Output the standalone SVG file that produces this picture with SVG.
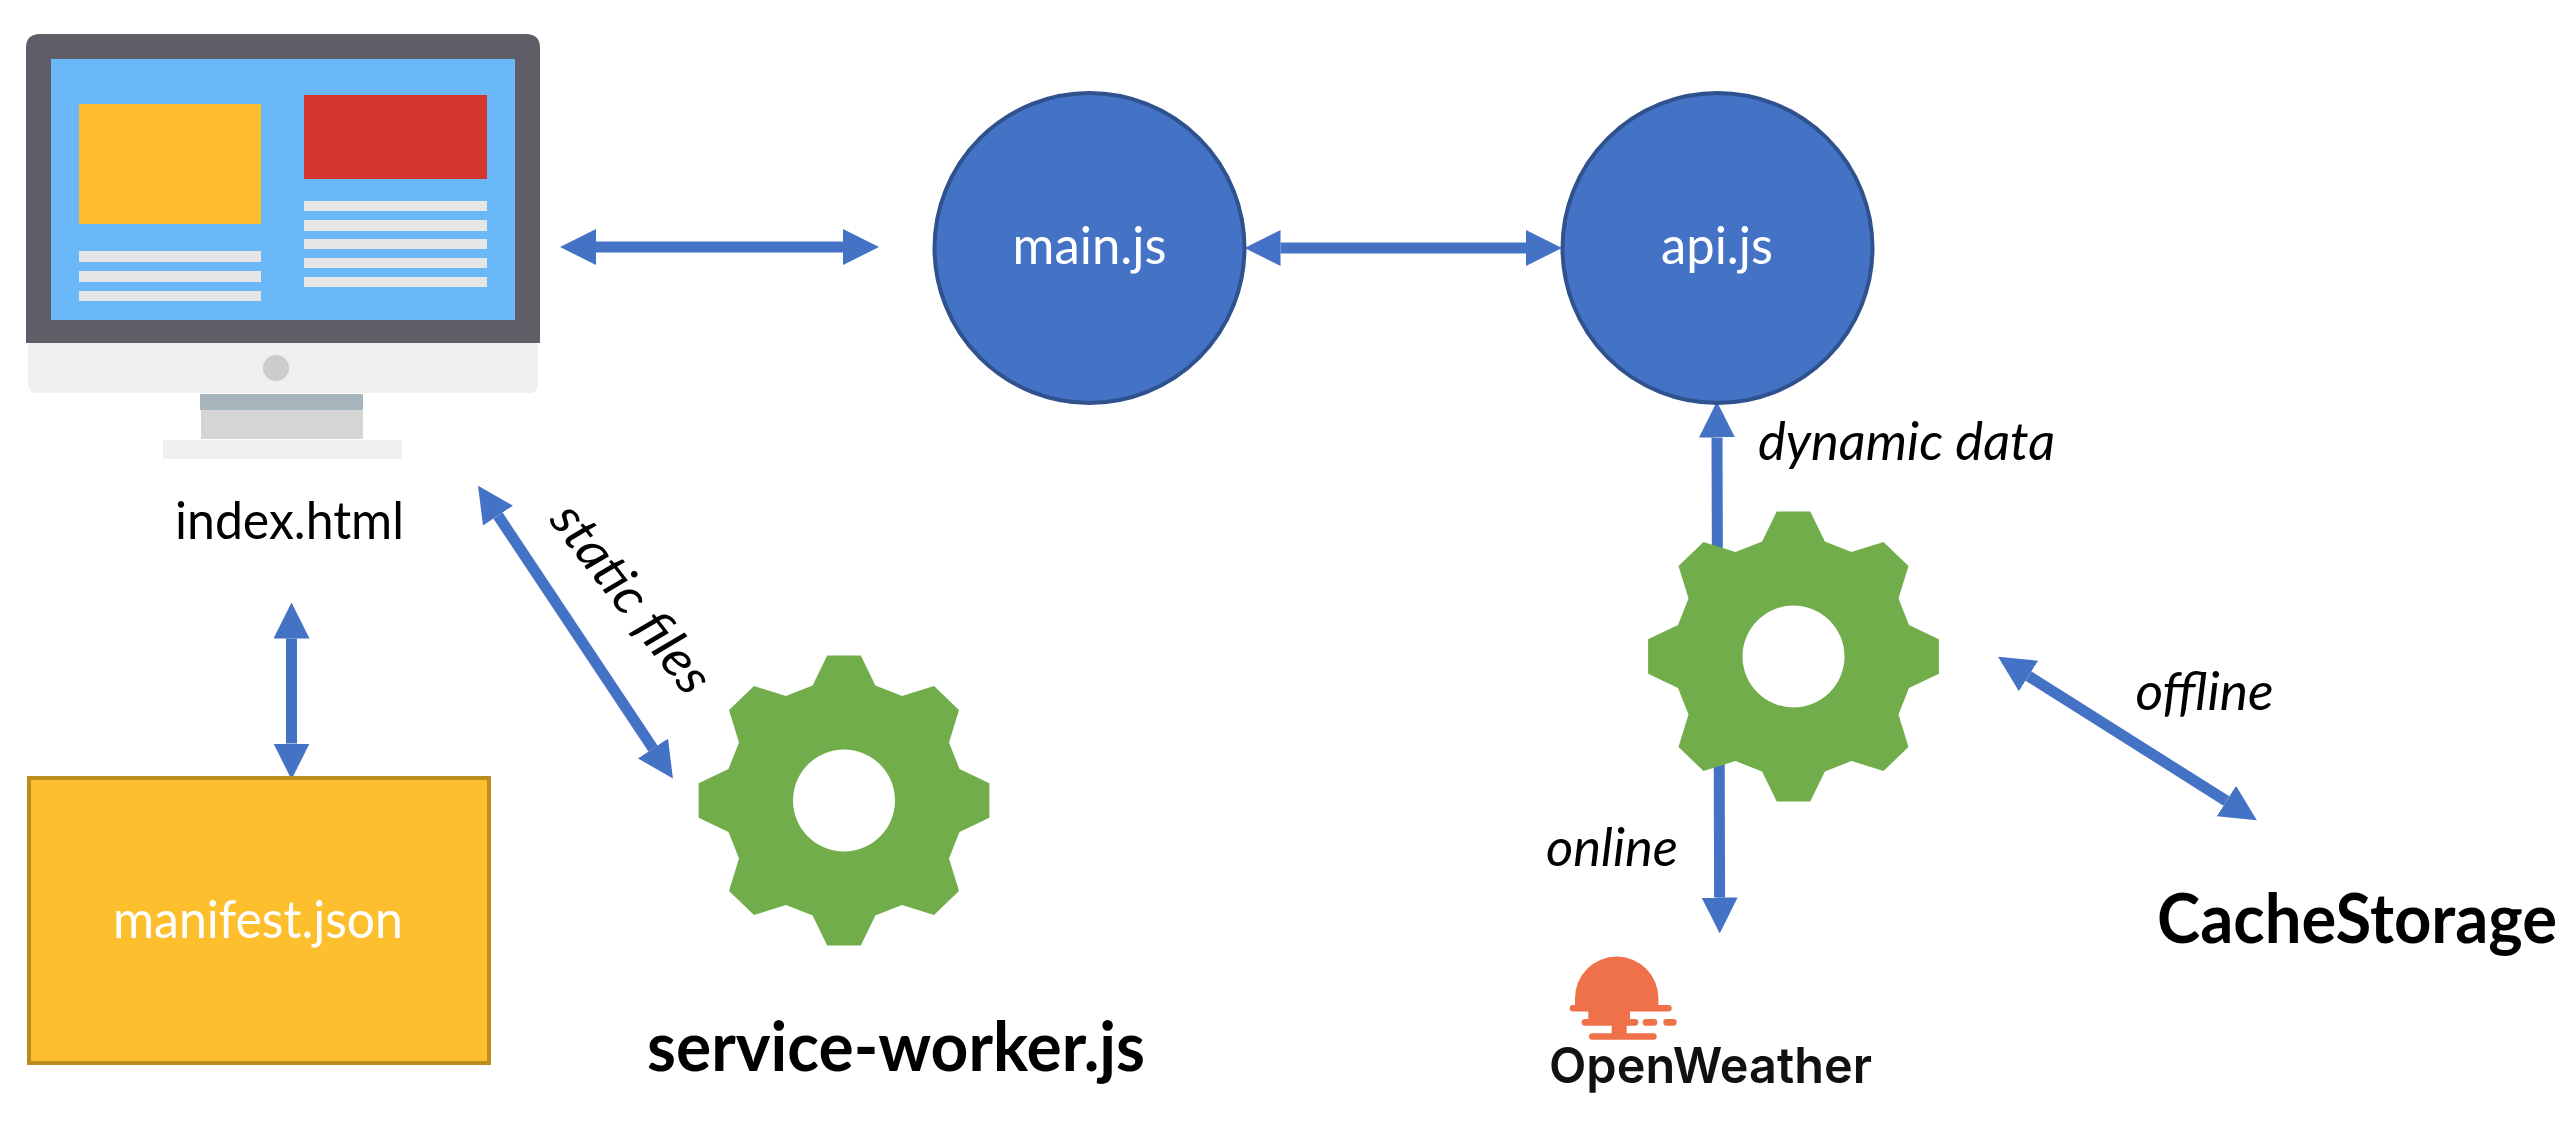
<svg xmlns="http://www.w3.org/2000/svg" width="2576" height="1144" viewBox="0 0 2576 1144">
<style>
text{font-family:"Lato","Open Sans","Liberation Sans",sans-serif;font-size:52px;fill:#000}
.w{fill:#fff}
.b{font-weight:700;font-size:68px}
.i{font-style:italic}
.conn{stroke:#4472C4;stroke-width:11;fill:none;marker-start:url(#ah);marker-end:url(#ah)}
.one{stroke:#4472C4;stroke-width:11;fill:none}
.node{fill:#4472C4;stroke:#2F528F;stroke-width:4}
.ln{fill:#E6E6E6}
.gear{fill:#72AD4C}
.sun{fill:#EF7149}
</style>
<defs>
<marker id="ah" markerUnits="userSpaceOnUse" markerWidth="36" markerHeight="36" viewBox="0 0 36 36" refX="0" refY="18" orient="auto-start-reverse"><path d="M0 0L36 18L0 36Z" fill="#4472C4"/></marker>
<path id="gearshape" fill-rule="evenodd" d="M-16.8-145L16.8-145L31.4-115L58-104.5L90-114.5L115-90.5L105-58L115.5-31.6L145.4-17.2L145.4 17.2L115.5 31.6L105 58L115 90.5L90 114.5L58 104.5L31.4 115L16.8 145L-16.8 145L-31.4 115L-58 104.5L-90 114.5L-115 90.5L-105 58L-115.5 31.6L-145.4 17.2L-145.4-17.2L-115.5-31.6L-105-58L-115-90.5L-90-114.5L-58-104.5L-31.4-115ZM51 0A51 51 0 1 0-51 0A51 51 0 1 0 51 0Z"/>
</defs>
<rect width="2576" height="1144" fill="#fff"/>
<g id="connectors">
<path class="conn" d="M596 247H843"/>
<path class="conn" d="M1280.500 248H1526"/>
<path class="conn" d="M291.500 638.500V743.500"/>
<path class="conn" d="M498 515.600L653 748.500"/>
<path class="conn" d="M2028.500 676L2226.400 801"/>
<path class="one" d="M1717 437.500L1717.500 600" marker-start="url(#ah)"/>
<path class="one" d="M1719 700L1719.600 897.500" marker-end="url(#ah)"/>
</g>
<g id="index-html">
<path d="M26 343V48Q26 34 40 34H526Q540 34 540 48V343Z" fill="#615D66"/>
<rect x="51" y="59" width="464" height="261" fill="#6AB8F7"/>
<rect x="79" y="104" width="182" height="120" fill="#FDBC2C"/>
<rect x="304" y="95" width="183" height="84" fill="#D3362D"/>
<rect class="ln" x="79" y="251" width="182" height="11"/>
<rect class="ln" x="79" y="271" width="182" height="11"/>
<rect class="ln" x="79" y="291" width="182" height="10"/>
<rect class="ln" x="304" y="201" width="183" height="10"/>
<rect class="ln" x="304" y="220" width="183" height="11"/>
<rect class="ln" x="304" y="239" width="183" height="10"/>
<rect class="ln" x="304" y="258" width="183" height="10"/>
<rect class="ln" x="304" y="277" width="183" height="10"/>
<path d="M28 343H538V384Q538 393 529 393H37Q28 393 28 384Z" fill="#F0F0F0"/>
<circle cx="276" cy="368" r="13" fill="#CCC"/>
<rect x="200" y="394" width="163" height="16" fill="#A7B5BC"/>
<rect x="201" y="410" width="162" height="29" fill="#D5D5D5"/>
<rect x="163" y="440" width="239" height="19" fill="#F0F0F0"/>
<text x="175" y="539" textLength="229" lengthAdjust="spacingAndGlyphs">index.html</text>
</g>
<g id="main-js">
<circle class="node" cx="1089.500" cy="248" r="155"/>
<text class="w" x="1012.600" y="264" textLength="154" lengthAdjust="spacingAndGlyphs">main.js</text>
</g>
<g id="api-js">
<circle class="node" cx="1717.500" cy="248" r="155"/>
<text class="w" x="1661" y="264" textLength="112" lengthAdjust="spacingAndGlyphs">api.js</text>
</g>
<g id="manifest-json">
<rect x="29" y="778" width="460" height="285" fill="#FEBF2E" stroke="#BC8C1E" stroke-width="4"/>
<text class="w" x="113" y="938" textLength="290" lengthAdjust="spacingAndGlyphs">manifest.json</text>
</g>
<g id="service-worker-js">
<use href="#gearshape" class="gear" x="844" y="800.500"/>
<text class="b" x="647" y="1071" textLength="498" lengthAdjust="spacingAndGlyphs">service-worker.js</text>
</g>
<g id="api-gear">
<use href="#gearshape" class="gear" x="1793.500" y="656.500"/>
</g>
<g id="labels">
<text class="i" transform="translate(548 520) rotate(52)" textLength="226" lengthAdjust="spacingAndGlyphs">static files</text>
<text class="i" x="1758" y="460" textLength="297" lengthAdjust="spacingAndGlyphs">dynamic data</text>
<text class="i" x="2135.500" y="710" textLength="138" lengthAdjust="spacingAndGlyphs">offline</text>
<text class="i" x="1546" y="866" textLength="132" lengthAdjust="spacingAndGlyphs">online</text>
</g>
<g id="cachestorage">
<text class="b" x="2157" y="943" textLength="400" lengthAdjust="spacingAndGlyphs">CacheStorage</text>
</g>
<g id="openweather">
<path class="sun" d="M1575 1006V998.300A41.700 41.700 0 0 1 1658.400 998.300V1006Z"/>
<rect class="sun" x="1569.700" y="1005" width="102" height="6.500" rx="3.200"/>
<rect class="sun" x="1588.300" y="1011" width="41.700" height="8"/>
<rect class="sun" x="1581.700" y="1019" width="56.600" height="6.700" rx="3.300"/>
<rect class="sun" x="1642.700" y="1019" width="14.600" height="6.700" rx="3.300"/>
<rect class="sun" x="1663.300" y="1019" width="13.400" height="6.700" rx="3.300"/>
<rect class="sun" x="1611.700" y="1025" width="15" height="9"/>
<rect class="sun" x="1589" y="1033.300" width="67.700" height="6.400" rx="3.200"/>
<text x="1549" y="1082.700" textLength="323" lengthAdjust="spacingAndGlyphs" style="font-family:Inter,sans-serif;font-weight:600;font-size:50px;fill:#111">OpenWeather</text>
</g>
</svg>
